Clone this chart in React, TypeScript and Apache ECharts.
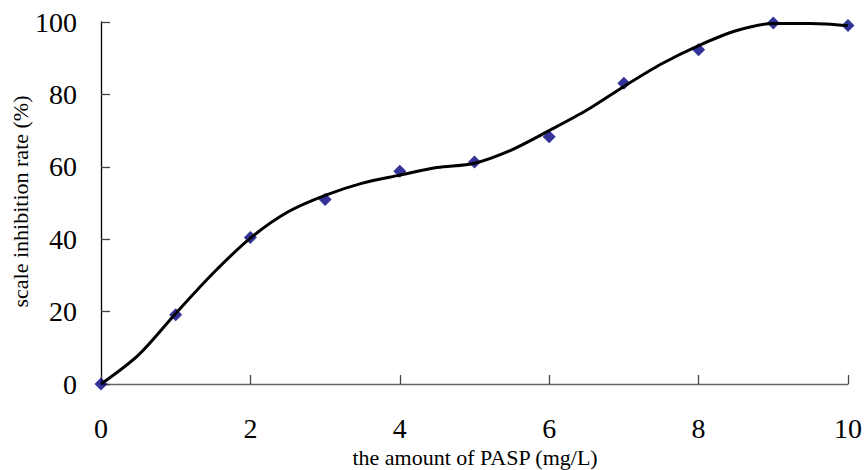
import React, { useEffect, useRef } from "react";
import * as echarts from "echarts";

const doseX = [0, 1, 2, 3, 4, 5, 6, 7, 8, 9, 10];
const inhibitionRate = [0, 19.1, 40.5, 51.0, 58.8, 61.3, 68.3, 83.1, 92.3, 99.7, 99.0];

const curveX = [0, 0.5, 1, 1.5, 2, 2.5, 3, 3.5, 4, 4.5, 5, 5.5, 6, 6.5, 7, 7.5, 8, 8.5, 9, 9.5, 10];
const curveY = [0, 8, 19.5, 30.6, 40.3, 47.5, 52.1, 55.5, 57.7, 59.8, 61.0, 64.7, 70.0, 75.6, 82.2, 88.4, 93.5, 97.6, 99.6, 99.6, 99.0];

const xTitle = "the amount of PASP (mg/L)";
const yTitle = "scale inhibition rate (%)";

export default function App() {
  const ref = useRef<HTMLDivElement>(null);
  useEffect(() => {
    if (!ref.current) return;
    const chart = echarts.init(ref.current, null, { renderer: "svg" });
    const serif = "'Liberation Serif', 'DejaVu Serif', serif";
    chart.setOption({
      animation: false,
      backgroundColor: "#ffffff",
      grid: { left: 101, right: 18, top: 22, bottom: 86, containLabel: false },
      xAxis: {
        type: "value",
        min: 0,
        max: 10,
        interval: 2,
        axisLine: { show: true, onZero: false, lineStyle: { color: "#666", width: 1.3 } },
        axisTick: { show: true, inside: true, length: 9, lineStyle: { color: "#444", width: 1.3 } },
        axisLabel: { color: "#000", fontFamily: serif, fontSize: 28, margin: 30 },
        splitLine: { show: false },
      },
      yAxis: {
        type: "value",
        min: 0,
        max: 100,
        interval: 20,
        axisLine: { show: true, lineStyle: { color: "#000", width: 1.3 } },
        axisTick: { show: true, inside: true, length: 9, lineStyle: { color: "#444", width: 1.3 } },
        axisLabel: { color: "#000", fontFamily: serif, fontSize: 28, margin: 24 },
        splitLine: { show: false },
      },
      graphic: [
        {
          type: "text",
          x: 475,
          y: 446,
          style: { text: xTitle, fontFamily: serif, fontSize: 22, fill: "#000", textAlign: "center", textVerticalAlign: "top" },
        },
        {
          type: "text",
          x: 20,
          y: 201.5,
          rotation: Math.PI / 2,
          style: { text: yTitle, fontFamily: serif, fontSize: 22, fill: "#000", textAlign: "center", textVerticalAlign: "middle" },
        },
      ],
      series: [
        {
          type: "scatter",
          data: doseX.map((x, i) => [x, inhibitionRate[i]]),
          symbol: "diamond",
          symbolSize: 13,
          itemStyle: { color: "#000080" },
          z: 2,
        },
        {
          type: "line",
          data: curveX.map((x, i) => [x, curveY[i]]),
          smooth: 0.3,
          showSymbol: false,
          lineStyle: { color: "#000", width: 3 },
          z: 3,
        },
      ],
    });
    return () => chart.dispose();
  }, []);
  return (
    <div
      ref={ref}
      style={{ position: "fixed", left: 0, top: 0, width: 866, height: 470, background: "#fff" }}
    />
  );
}
